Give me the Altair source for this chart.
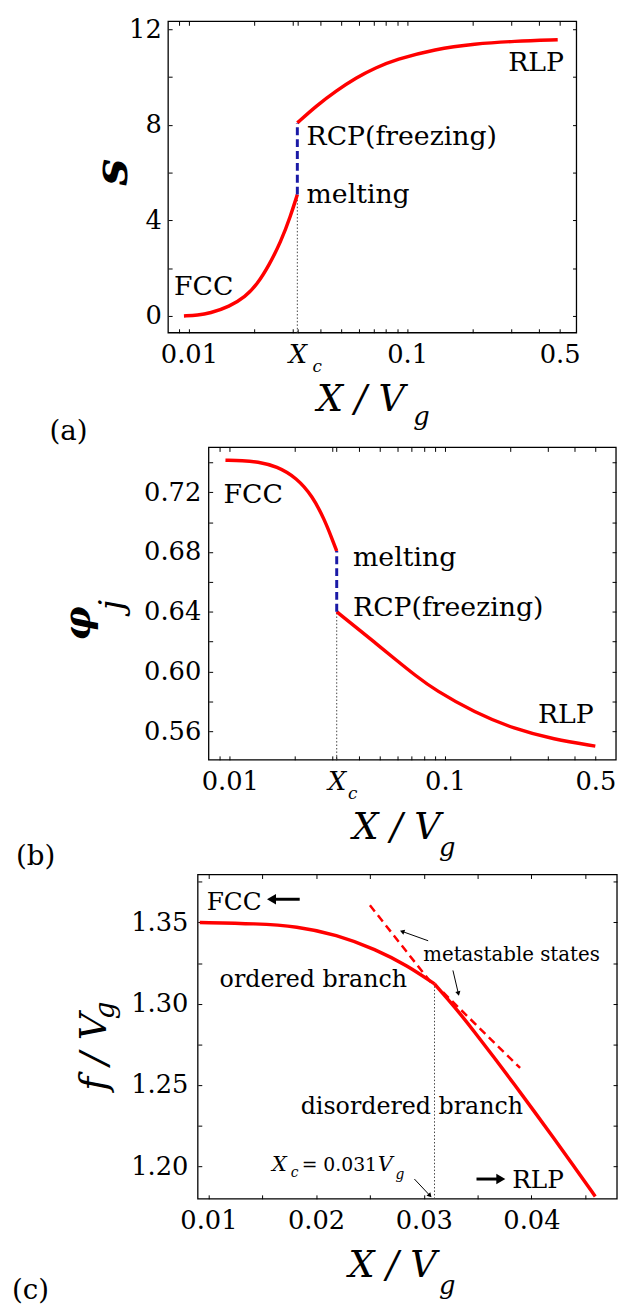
import altair as alt
import pandas as pd

FONT = "DejaVu Serif"
RED = "#ff0000"
BLUE = "#1a1aa6"
DOT = "#444444"
T = 4            # tick length (drawn inward)
XC = 0.0314      # critical X/Vg as read on the log panels
XC_LIN = 0.031   # critical X/Vg as read on the linear panel

# ---------------- panel (a): s vs X/Vg ----------------
a_ord_x = [0.00949, 0.01099, 0.01245, 0.01534, 0.01813, 0.02055, 0.02328, 0.02638, 0.02928, XC]
a_ord_s = [0.0, 0.03, 0.11, 0.39, 0.80, 1.32, 2.12, 3.10, 4.20, 5.08]
a_dis_x = [XC, 0.03841, 0.04732, 0.05831, 0.07185, 0.08851, 0.1343, 0.2039, 0.3095, 0.4898]
a_dis_s = [8.08, 8.80, 9.42, 9.97, 10.39, 10.73, 11.17, 11.39, 11.50, 11.56]
a_jump = [5.08, 8.08]
a_yticks = [0, 2, 4, 6, 8, 10, 12]
a_notes = ["FCC", "RCP(freezing)", "melting", "RLP"]

# ---------------- panel (b): phi_j vs X/Vg ----------------
b_ord_x = [0.00955, 0.01150, 0.01340, 0.01656, 0.02046, 0.02424, 0.02752, 0.02995, XC]
b_ord_phi = [0.7414, 0.7412, 0.7405, 0.7374, 0.7296, 0.7173, 0.7018, 0.6884, 0.6806]
b_dis_x = [XC, 0.03860, 0.04771, 0.05893, 0.07282, 0.08996, 0.1373, 0.2097, 0.3201, 0.4993]
b_dis_phi = [0.6400, 0.6296, 0.6188, 0.6080, 0.5973, 0.5875, 0.5725, 0.5615, 0.5545, 0.5500]
b_jump = [0.6806, 0.6400]
b_yticks = [0.56, 0.58, 0.60, 0.62, 0.64, 0.66, 0.68, 0.70, 0.72, 0.74]
b_notes = ["FCC", "melting", "RCP(freezing)", "RLP"]

# ---------------- panel (c): f/Vg vs X/Vg ----------------
c_ord_x = [0.00920, 0.01453, 0.01820, 0.02187, 0.02555, 0.02849, XC_LIN]
c_ord_f = [1.3500, 1.3493, 1.3477, 1.3426, 1.3335, 1.3234, 1.3122]
c_dis_x = [XC_LIN, 0.03289, 0.03473, 0.03657, 0.03840, 0.04024, 0.04208, 0.04391, 0.04593]
c_dis_f = [1.3122, 1.2980, 1.2826, 1.2667, 1.2505, 1.2340, 1.2173, 1.2004, 1.1815]
c_meta_id = ["m1", "m1", "m2", "m2"]
c_meta_x = [0.02500, 0.03087, 0.03179, 0.03895]
c_meta_f = [1.3606, 1.3114, 1.3071, 1.2605]
c_xticks = [0.01, 0.015, 0.02, 0.025, 0.03, 0.035, 0.04, 0.045]
c_yticks = [1.20, 1.225, 1.25, 1.275, 1.30, 1.325, 1.35, 1.375]

LOG_TICKS = [0.009, 0.01, 0.02, 0.03, XC, 0.04, 0.05, 0.06, 0.07, 0.08, 0.09,
             0.1, 0.2, 0.3, 0.4, 0.5]
LOG_EXPR = ("abs(datum.value-0.01)<1e-6 ? '0.01' : abs(datum.value-0.0314)<1e-6 ? 'X' : "
            "abs(datum.value-0.1)<1e-6 ? '0.1' : abs(datum.value-0.5)<1e-6 ? '0.5' : ''")
XC_ITALIC = {"condition": {"test": "abs(datum.value-0.0314)<1e-6", "value": "italic"},
             "value": "normal"}


def bottom_axis(vals, expr, title_x, title_y, fmt=None, italic=False):
    kw = dict(orient="bottom", offset=-T, tickSize=T, domain=False, grid=False,
              values=vals, labelExpr=expr, labelFont=FONT, labelFontSize=26,
              labelColor="black", labelPadding=9, labelOverlap=False, labelFlush=False,
              tickColor="black", tickWidth=1,
              title="X / V", titleFont=FONT, titleFontSize=37, titleFontStyle="italic",
              titleFontWeight="normal", titleColor="black", titleX=title_x, titleY=title_y,
              titleAlign="left", titleBaseline="alphabetic", titleAngle=0)
    if fmt:
        kw["format"] = fmt
    if italic:
        kw["labelFontStyle"] = XC_ITALIC
    return alt.Axis(**kw)


def left_axis(dx, vals, expr, fmt, pad, title, tx, ty, size, weight, style):
    return alt.Axis(orient="left", offset=-(dx + T), tickSize=T, domain=False, grid=False,
                    values=vals, labelExpr=expr, format=fmt, labelFont=FONT, labelFontSize=26,
                    labelColor="black", labelPadding=pad, labelOverlap=False, labelFlush=False,
                    tickColor="black", tickWidth=1,
                    title=title, titleFont=FONT, titleFontSize=size, titleFontWeight=weight,
                    titleFontStyle=style, titleColor="black", titleX=tx, titleY=ty,
                    titleAngle=270, titleAlign="center", titleBaseline="alphabetic")


def mirror_axes(xvals, yvals):
    top = alt.Axis(orient="top", offset=-T, tickSize=T, domain=False, grid=False,
                   values=xvals, labels=False, title=None, tickColor="black", tickWidth=1)
    right = alt.Axis(orient="right", offset=-T, tickSize=T, domain=False, grid=False,
                     values=yvals, labels=False, title=None, tickColor="black", tickWidth=1)
    return top, right


def frame_layer(xs, ys, xdom, ydom, top, right):
    fdf = pd.DataFrame({"x0": [xdom[0]], "x1": [xdom[1]], "y0": [ydom[0]], "y1": [ydom[1]]})
    return alt.Chart(fdf).mark_rect(filled=False, color="black", strokeWidth=1.3).encode(
        x=alt.X("x0:Q", scale=xs, axis=top), x2="x1:Q",
        y=alt.Y("y0:Q", scale=ys, axis=right), y2="y1:Q")


def line_layer(xv, yv, xs, ys, color, width, dash=None, xaxis=None, yaxis=None, detail=None):
    d = pd.DataFrame({"x": xv, "y": yv})
    kw = dict(color=color, strokeWidth=width, interpolate="basis")
    if dash:
        kw["strokeDash"] = dash
        kw["interpolate"] = "linear"
    enc = dict(x=alt.X("x:Q", scale=xs, axis=xaxis), y=alt.Y("y:Q", scale=ys, axis=yaxis))
    if detail is not None:
        d["id"] = detail
        enc["detail"] = "id:N"
    return alt.Chart(d).mark_line(**kw).encode(**enc)


def vrule(xv, y0, y1, xs, ys, color, width, dash):
    d = pd.DataFrame({"x": [xv], "y0": [y0], "y1": [y1]})
    return alt.Chart(d).mark_rule(color=color, strokeWidth=width, strokeDash=dash).encode(
        x=alt.X("x:Q", scale=xs, axis=None), y=alt.Y("y0:Q", scale=ys, axis=None), y2="y1:Q")


def text_layer(texts, xv, yv, xs, ys, size, style="normal", weight="normal"):
    d = pd.DataFrame({"t": texts, "x": xv, "y": yv})
    return alt.Chart(d).mark_text(align="left", baseline="alphabetic", font=FONT,
                                  fontSize=size, fontStyle=style, fontWeight=weight,
                                  color="black").encode(
        x=alt.X("x:Q", scale=xs, axis=None), y=alt.Y("y:Q", scale=ys, axis=None), text="t:N")


def pix_text(texts, px, py, size, style="normal", weight="normal", angle=0, align="left"):
    d = pd.DataFrame({"t": texts, "px": px, "py": py})
    return alt.Chart(d).mark_text(align=align, baseline="alphabetic", font=FONT,
                                  fontSize=size, fontStyle=style, fontWeight=weight,
                                  color="black", angle=angle).encode(
        x=alt.X("px:Q", scale=None, axis=None), y=alt.Y("py:Q", scale=None, axis=None),
        text="t:N")


# ======================= panel (a) =======================
Wa, Ha, dxa = 575, 315, 162
a_xdom = [0.008035, 0.5971]
a_ydom = [-0.703, 12.331]
xs_a = alt.Scale(type="log", domain=a_xdom, range=[dxa, Wa], nice=False)
ys_a = alt.Scale(type="linear", domain=a_ydom, nice=False, zero=False)
top_a, right_a = mirror_axes(LOG_TICKS, a_yticks)
pa = alt.layer(
    frame_layer(xs_a, ys_a, a_xdom, a_ydom, top_a, right_a),
    vrule(XC, a_ydom[0], a_jump[0], xs_a, ys_a, DOT, 1, [1.5, 2]),
    line_layer(a_ord_x, a_ord_s, xs_a, ys_a, RED, 3.5,
               xaxis=bottom_axis(LOG_TICKS, LOG_EXPR, 312, 83, italic=True),
               yaxis=left_axis(dxa, a_yticks, "datum.value % 4 == 0 ? datum.label : ''", "d", 7,
                               "s", -46, 152, 48, "bold", "italic")),
    line_layer(a_dis_x, a_dis_s, xs_a, ys_a, RED, 3.5),
    vrule(XC, a_jump[0], a_jump[1], xs_a, ys_a, BLUE, 3, [8, 4]),
    text_layer(a_notes, [0.00855, 0.0346, 0.0346, 0.2907], [0.87, 7.16, 4.72, 10.26],
               xs_a, ys_a, 27),
    pix_text(["c"], [308], [355], 17, style="italic"),
    pix_text(["g"], [410], [408], 26, style="italic"),
    pix_text(["(a)"], [42], [423], 28),
).resolve_axis(x="independent", y="independent").properties(width=Wa, height=Ha)

# ======================= panel (b) =======================
Wb, Hb, dxb = 615, 316, 203
b_xdom = [0.007983, 0.6231]
b_ydom = [0.5408, 0.7500]
xs_b = alt.Scale(type="log", domain=b_xdom, range=[dxb, Wb], nice=False)
ys_b = alt.Scale(type="linear", domain=b_ydom, nice=False, zero=False)
top_b, right_b = mirror_axes(LOG_TICKS, b_yticks)
pb = alt.layer(
    frame_layer(xs_b, ys_b, b_xdom, b_ydom, top_b, right_b),
    vrule(XC, b_ydom[0], b_jump[1], xs_b, ys_b, DOT, 1, [1.5, 2]),
    line_layer(b_ord_x, b_ord_phi, xs_b, ys_b, RED, 3.5,
               xaxis=bottom_axis(LOG_TICKS, LOG_EXPR, 348, 84, italic=True),
               yaxis=left_axis(dxb, b_yticks,
                               "round(datum.value*100) % 4 == 0 ? datum.label : ''", ".2f", 8,
                               "\u03c6", -125, 177.5, 38, "bold", "italic")),
    line_layer(b_dis_x, b_dis_phi, xs_b, ys_b, RED, 3.5),
    vrule(XC, b_jump[1], b_jump[0], xs_b, ys_b, BLUE, 3, [8, 4]),
    text_layer(b_notes, [0.00935, 0.0374, 0.0374, 0.2702], [0.7129, 0.6705, 0.6368, 0.5653],
               xs_b, ys_b, 27),
    pix_text(["j"], [116], [159.5], 34, style="italic", angle=270, align="center"),
    pix_text(["c"], [344], [356], 17, style="italic"),
    pix_text(["g"], [436], [413], 26, style="italic"),
    pix_text(["(b)"], [8], [422], 28),
).resolve_axis(x="independent", y="independent").properties(width=Wb, height=Hb)

# ======================= panel (c) =======================
Wc, Hc, dxc = 616, 328, 192
c_xdom = [0.009017, 0.04795]
c_ydom = [1.18003, 1.37949]
xs_c = alt.Scale(type="linear", domain=c_xdom, range=[dxc, Wc], nice=False, zero=False)
ys_c = alt.Scale(type="linear", domain=c_ydom, nice=False, zero=False)
top_c, right_c = mirror_axes(c_xticks, c_yticks)

arr_tail_x = [0.01848, 0.03490, 0.03041, 0.03271, 0.02913]
arr_tail_y = [1.36429, 1.1922, 1.33875, 1.32051, 1.1922]
arr_head_x = [0.01600, 0.03702, 0.02806, 0.03320, 0.03053]
arr_head_y = [1.36429, 1.1922, 1.34434, 1.30676, 1.18234]
arr_angle = [270, 90, 289.6, 166.5, 136.6]
arr_width = [3, 3, 1, 1, 1]
arr_head = [110, 110, 28, 28, 28]
arr_df = pd.DataFrame({"x": arr_tail_x, "y": arr_tail_y, "xe": arr_head_x, "ye": arr_head_y,
                       "ang": arr_angle, "w": arr_width, "hs": arr_head})
arrows = alt.Chart(arr_df).mark_rule(color="black").encode(
    x=alt.X("x:Q", scale=xs_c, axis=None), y=alt.Y("y:Q", scale=ys_c, axis=None),
    x2="xe:Q", y2="ye:Q", strokeWidth=alt.StrokeWidth("w:Q", scale=None))
heads = alt.Chart(arr_df).mark_point(shape="triangle", filled=True, color="black",
                                     opacity=1).encode(
    x=alt.X("xe:Q", scale=xs_c, axis=None), y=alt.Y("ye:Q", scale=ys_c, axis=None),
    angle=alt.Angle("ang:Q", scale=None), size=alt.Size("hs:Q", scale=None))

pc = alt.layer(
    frame_layer(xs_c, ys_c, c_xdom, c_ydom, top_c, right_c),
    vrule(XC_LIN, c_ydom[0], c_ord_f[-1], xs_c, ys_c, DOT, 1, [1.5, 2]),
    line_layer(c_ord_x, c_ord_f, xs_c, ys_c, RED, 3.5,
               xaxis=bottom_axis(c_xticks, "round(datum.value*1000) % 10 == 0 ? datum.label : ''",
                                 344, 83, fmt=".2f"),
               yaxis=left_axis(dxc, c_yticks,
                               "round(datum.value*1000) % 50 == 0 ? datum.label : ''", ".2f", 10,
                               "f / V", -97, 179, 38, "normal", "italic")),
    line_layer(c_dis_x, c_dis_f, xs_c, ys_c, RED, 3.5),
    line_layer(c_meta_x, c_meta_f, xs_c, ys_c, RED, 2.5, dash=[8, 5], detail=c_meta_id),
    arrows,
    heads,
    text_layer(["FCC", "RLP"], [0.00984, 0.03822], [1.3576, 1.1867], xs_c, ys_c, 25),
    text_layer(["ordered branch", "disordered branch"], [0.01104, 0.01857], [1.3102, 1.2323],
               xs_c, ys_c, 24),
    text_layer(["metastable states"], [0.02995], [1.3266], xs_c, ys_c, 20),
    text_layer(["X", "V"], [0.01590, 0.02573], [1.19706, 1.19706], xs_c, ys_c, 21, style="italic"),
    text_layer(["= 0.031"], [0.01866], [1.19706], xs_c, ys_c, 19),
    text_layer(["c", "g"], [0.01765, 0.02738], [1.19341, 1.1922], xs_c, ys_c, 14, style="italic"),
    pix_text(["g"], [107.5], [137.5], 28, style="italic", angle=270, align="center"),
    pix_text(["g"], [436], [424], 26, style="italic"),
    pix_text(["(c)"], [4], [429], 28),
).resolve_axis(x="independent", y="independent").properties(width=Wc, height=Hc)

chart = alt.vconcat(pa, pb, pc, spacing=116, bounds="flush").configure_view(
    strokeOpacity=0).properties(padding={"left": 0, "top": 0, "right": 0, "bottom": 0})

chart.save("out.html", embed_options={"renderer": "svg", "actions": False})
